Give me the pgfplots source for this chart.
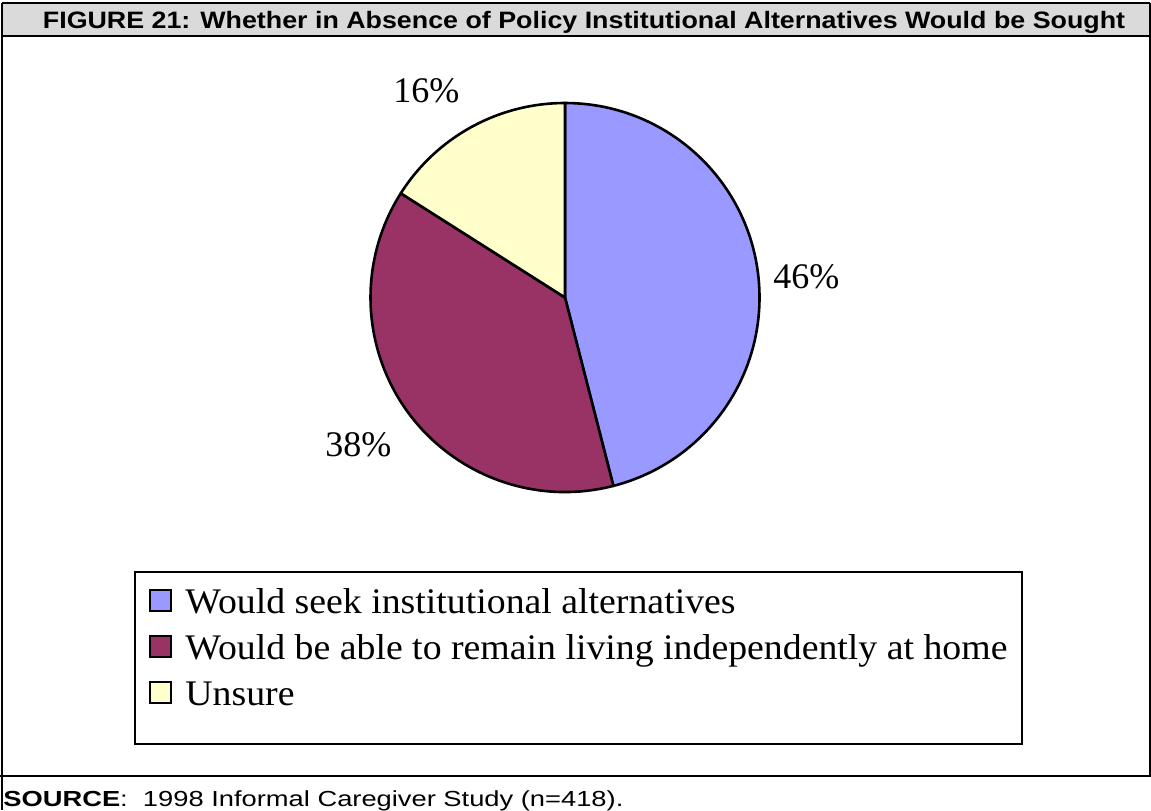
\documentclass[border=0pt]{standalone}
\usepackage{fontspec}
\setmainfont{Liberation Serif}
\newfontfamily\arial{Liberation Sans}
\usepackage{graphicx}
\usepackage{pgfplots}
\usepackage{pgfplotstable}
\pgfplotsset{compat=1.18}
\definecolor{pieA}{RGB}{153,153,255}
\definecolor{pieB}{RGB}{153,51,102}
\definecolor{pieC}{RGB}{255,255,204}
\definecolor{band}{RGB}{218,218,218}
\pgfplotstableread{
value
46
38
16
}\piedata
\begin{document}
\pgfplotstablegetelem{0}{value}\of\piedata \edef\vA{\pgfplotsretval}%
\pgfplotstablegetelem{1}{value}\of\piedata \edef\vB{\pgfplotsretval}%
\pgfplotstablegetelem{2}{value}\of\piedata \edef\vC{\pgfplotsretval}%
\pgfmathsetmacro{\aA}{90}%
\pgfmathsetmacro{\aB}{90-3.6*\vA}%
\pgfmathsetmacro{\aC}{\aB-3.6*\vB}%
\pgfmathsetmacro{\aD}{\aC-3.6*\vC}%
\begin{tikzpicture}
\path[use as bounding box] (0,0) rectangle (575.5pt,405pt);
\begin{axis}[width=575.5pt,height=405pt,scale only axis,
  xmin=0,xmax=1151,ymin=0,ymax=810,y dir=reverse,hide axis,clip=false]
% frame
\fill[band] (axis cs:2,3) rectangle (axis cs:1150,36);
\draw[line width=1pt] (axis cs:2,3) -- (axis cs:1150,3);
\draw[line width=1.3pt] (axis cs:2,36) -- (axis cs:1150,36);
\draw[line width=1pt] (axis cs:2,3) -- (axis cs:2,810);
\draw[line width=1pt] (axis cs:1150,3) -- (axis cs:1150,776);
\draw[line width=1.3pt] (axis cs:0,776) -- (axis cs:1151,776);
% title
\node[anchor=base,inner sep=0pt] at (axis cs:584,28.5)
  {\resizebox{541pt}{8.6pt}{\arial\bfseries FIGURE 21: Whether in Absence of Policy Institutional Alternatives Would be Sought}};
% source
\node[anchor=base west,inner sep=0pt] at (axis cs:3,806.5)
  {\resizebox{310pt}{7.9pt}{\arial\textbf{SOURCE}:\ \ 1998 Informal Caregiver Study (n=418).}};
% pie
\filldraw[fill=pieA,draw=black,line width=1.3pt,line join=round]
  (axis cs:565,297.5) -- ++(\aA:97.25pt) arc[start angle=\aA,end angle=\aB,radius=97.25pt] -- cycle;
\filldraw[fill=pieB,draw=black,line width=1.3pt,line join=round]
  (axis cs:565,297.5) -- ++(\aB:97.25pt) arc[start angle=\aB,end angle=\aC,radius=97.25pt] -- cycle;
\filldraw[fill=pieC,draw=black,line width=1.3pt,line join=round]
  (axis cs:565,297.5) -- ++(\aC:97.25pt) arc[start angle=\aC,end angle=\aD,radius=97.25pt] -- cycle;
% pie labels
\node[anchor=base west,inner sep=0pt,font=\fontsize{18}{20}\selectfont] at (axis cs:773,288) {\vA\%};
\node[anchor=base west,inner sep=0pt,font=\fontsize{18}{20}\selectfont] at (axis cs:325,456) {\vB\%};
\node[anchor=base west,inner sep=0pt,font=\fontsize{18}{20}\selectfont] at (axis cs:393,102) {\vC\%};
% legend
\draw[line width=1.3pt,fill=white] (axis cs:135,572) rectangle (axis cs:1022,744);
\filldraw[fill=pieA,draw=black,line width=0.9pt] (axis cs:150,590) rectangle (axis cs:171,611);
\filldraw[fill=pieB,draw=black,line width=0.9pt] (axis cs:150,636) rectangle (axis cs:171,657);
\filldraw[fill=pieC,draw=black,line width=0.9pt] (axis cs:150,682) rectangle (axis cs:171,703);
\node[anchor=base west,inner sep=0pt,font=\fontsize{18}{20}\selectfont] at (axis cs:185,613)
  {\scalebox{1.05}[1]{Would seek institutional alternatives}};
\node[anchor=base west,inner sep=0pt,font=\fontsize{18}{20}\selectfont] at (axis cs:185,659)
  {\scalebox{1.05}[1]{Would be able to remain living independently at home}};
\node[anchor=base west,inner sep=0pt,font=\fontsize{18}{20}\selectfont] at (axis cs:185,705)
  {\scalebox{1.05}[1]{Unsure}};
\end{axis}
\end{tikzpicture}
\end{document}
